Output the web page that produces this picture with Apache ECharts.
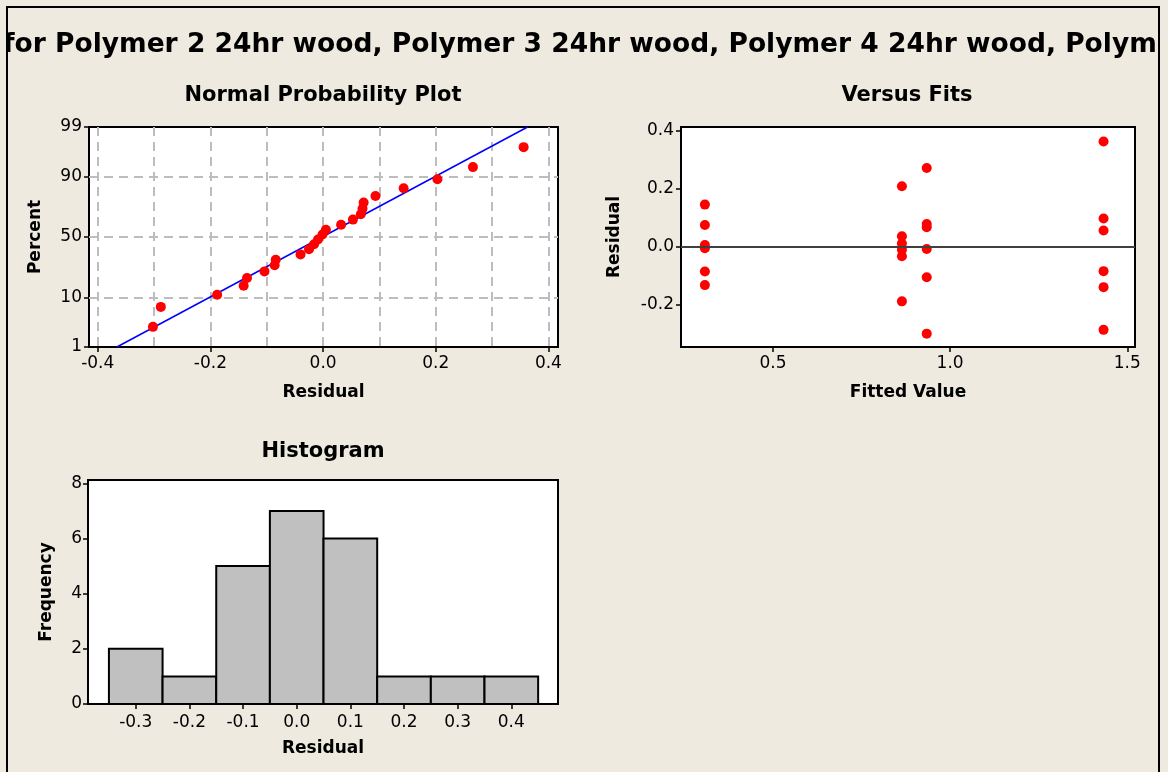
<!DOCTYPE html>
<html>
<head>
<meta charset="utf-8">
<script src="https://cdn.jsdelivr.net/npm/echarts@6/dist/echarts.min.js"></script>
<style>
  html, body { margin: 0; padding: 0; background: #EEEAE0; }
  #chart { width: 1168px; height: 772px; }
</style>
</head>
<body>
<div id="chart"></div>
<script>
// ---------- Data ----------
const mainTitle = "for Polymer 2 24hr wood, Polymer 3 24hr wood, Polymer 4 24hr wood, Polym";

// Normal probability plot (sorted residuals and their plotting percents)
const probResiduals = [-0.302, -0.288, -0.188, -0.141, -0.135, -0.104, -0.086, -0.084,
  -0.040, -0.025, -0.016, -0.009, -0.001, 0.005, 0.032, 0.053, 0.067, 0.070, 0.072,
  0.093, 0.143, 0.203, 0.266, 0.356];
const probPercents = [2.87, 6.97, 11.07, 15.16, 19.26, 23.36, 27.46, 31.56, 35.66, 39.75,
  43.85, 47.95, 52.05, 56.15, 60.25, 64.34, 68.44, 72.54, 76.64, 80.74, 84.84, 88.93,
  93.03, 97.13];
const fitLineResidual = [-0.366, 0.363];
const fitLinePercent = [1, 99];
const probPercentTicks = [1, 10, 50, 90, 99];
const probPercentGrid = [10, 50, 90];
const probResidualTicks = [-0.4, -0.2, 0.0, 0.2, 0.4];
const probResidualGrid = [-0.4, -0.3, -0.2, -0.1, 0.0, 0.1, 0.2, 0.3, 0.4];

// Versus fits
const fittedValues = [0.308, 0.308, 0.308, 0.308, 0.308, 0.308,
  0.864, 0.864, 0.864, 0.864, 0.864, 0.864,
  0.934, 0.934, 0.934, 0.934, 0.934, 0.934,
  1.433, 1.433, 1.433, 1.433, 1.433, 1.433];
const fitsResiduals = [0.145, 0.075, 0.006, -0.005, -0.085, -0.132,
  0.208, 0.036, 0.011, -0.010, -0.033, -0.188,
  0.271, 0.078, 0.067, -0.008, -0.105, -0.299,
  0.362, 0.097, 0.056, -0.084, -0.139, -0.286];
const fitsXTicks = [0.5, 1.0, 1.5];
const fitsYTicks = [-0.2, 0.0, 0.2, 0.4];

// Histogram
const binStart = [-0.35, -0.25, -0.15, -0.05, 0.05, 0.15, 0.25, 0.35];
const binEnd   = [-0.25, -0.15, -0.05, 0.05, 0.15, 0.25, 0.35, 0.45];
const binCount = [2, 1, 5, 7, 6, 1, 1, 1];
const histXTicks = [-0.3, -0.2, -0.1, 0.0, 0.1, 0.2, 0.3, 0.4];
const histYTicks = [0, 2, 4, 6, 8];

// ---------- Helpers ----------
function normInv(p) {
  const a = [-3.969683028665376e+01, 2.209460984245205e+02, -2.759285104469687e+02,
    1.383577518672690e+02, -3.066479806614716e+01, 2.506628277459239e+00];
  const b = [-5.447609879822406e+01, 1.615858368580409e+02, -1.556989798598866e+02,
    6.680131188771972e+01, -1.328068155288572e+01];
  const c = [-7.784894002430293e-03, -3.223964580411365e-01, -2.400758277161838e+00,
    -2.549732539343734e+00, 4.374664141464968e+00, 2.938163982698783e+00];
  const d = [7.784695709041462e-03, 3.224671290700398e-01, 2.445134137142996e+00,
    3.754408661907416e+00];
  const pl = 0.02425, ph = 1 - pl;
  let q, r;
  if (p < pl) {
    q = Math.sqrt(-2 * Math.log(p));
    return (((((c[0]*q+c[1])*q+c[2])*q+c[3])*q+c[4])*q+c[5]) / ((((d[0]*q+d[1])*q+d[2])*q+d[3])*q+1);
  } else if (p <= ph) {
    q = p - 0.5; r = q * q;
    return (((((a[0]*r+a[1])*r+a[2])*r+a[3])*r+a[4])*r+a[5])*q / (((((b[0]*r+b[1])*r+b[2])*r+b[3])*r+b[4])*r+1);
  } else {
    q = Math.sqrt(-2 * Math.log(1 - p));
    return -(((((c[0]*q+c[1])*q+c[2])*q+c[3])*q+c[4])*q+c[5]) / ((((d[0]*q+d[1])*q+d[2])*q+d[3])*q+1);
  }
}
const pz = pct => normInv(pct / 100);
const zTicks = probPercentTicks.map(pz);
const zGrid = probPercentGrid.map(pz);
const zMin = pz(1), zMax = pz(99);

const probPoints = probResiduals.map((r, i) => [r, pz(probPercents[i])]);
const fitLine = fitLineResidual.map((r, i) => [r, pz(fitLinePercent[i])]);
const fitsPoints = fittedValues.map((f, i) => [f, fitsResiduals[i]]);
const histData = binStart.map((s, i) => [s, binEnd[i], binCount[i]]);

// ---------- Styles ----------
const FONT = "DejaVu Sans";
const BG = "#EEEAE0";
const tickLabel = { color: "#000", fontFamily: FONT, fontSize: 17 };
const nameStyle = { color: "#000", fontFamily: FONT, fontSize: 17, fontWeight: "bold" };
const axisLine = { show: true, onZero: false, lineStyle: { color: "#000", width: 2 } };
const tickStyle = (vals) => ({ show: true, inside: false, length: 5, lineStyle: { color: "#000", width: 1.5 }, customValues: vals });
const gridBox = { show: true, backgroundColor: "#fff", borderColor: "#000", borderWidth: 2 };
const dashGrid = { show: true, lineStyle: { color: "#BDBDBD", width: 2, type: [9, 6] } };
const panelTitle = { fontFamily: FONT, fontSize: 21, fontWeight: "bold", color: "#000" };

const chart = echarts.init(document.getElementById("chart"), null, { renderer: "canvas" });

const option = {
  backgroundColor: BG,
  animation: false,
  title: [
    { text: mainTitle, left: -2, top: 27, textStyle: { fontFamily: FONT, fontSize: 26.5, fontWeight: "bold", color: "#000" } },
    { text: "Normal Probability Plot", left: 318, top: 80, textAlign: "center", textStyle: panelTitle },
    { text: "Versus Fits", left: 902, top: 80, textAlign: "center", textStyle: panelTitle },
    { text: "Histogram", left: 318, top: 436, textAlign: "center", textStyle: panelTitle }
  ],
  grid: [
    Object.assign({ left: 89, top: 127, width: 469, height: 220 }, gridBox),
    Object.assign({ left: 681, top: 127, width: 454, height: 220 }, gridBox),
    Object.assign({ left: 88, top: 480, width: 470, height: 224 }, gridBox)
  ],
  xAxis: [
    { type: "value", gridIndex: 0, min: -0.4155, max: 0.417,
      axisLine, axisTick: tickStyle(probResidualTicks),
      axisLabel: Object.assign({ customValues: probResidualTicks, margin: 8, formatter: v => v.toFixed(1) }, tickLabel),
      splitLine: { show: false },
      name: "Residual", nameLocation: "middle", nameGap: 37, nameTextStyle: nameStyle },
    { type: "value", gridIndex: 0, min: -0.4155, max: 0.417, z: 1,
      axisLine: { show: false, onZero: false }, axisTick: { show: false, customValues: probResidualGrid },
      axisLabel: { show: false, customValues: probResidualGrid }, splitLine: dashGrid },
    { type: "value", gridIndex: 1, min: 0.2406, max: 1.5217,
      axisLine, axisTick: tickStyle(fitsXTicks),
      axisLabel: Object.assign({ customValues: fitsXTicks, margin: 8, formatter: v => v.toFixed(1) }, tickLabel),
      splitLine: { show: false },
      name: "Fitted Value", nameLocation: "middle", nameGap: 37, nameTextStyle: nameStyle },
    { type: "value", gridIndex: 2, min: -0.389, max: 0.487,
      axisLine, axisTick: tickStyle(histXTicks),
      axisLabel: Object.assign({ customValues: histXTicks, margin: 10, formatter: v => v.toFixed(1) }, tickLabel),
      splitLine: { show: false },
      name: "Residual", nameLocation: "middle", nameGap: 36, nameTextStyle: nameStyle }
  ],
  yAxis: [
    { type: "value", gridIndex: 0, min: zMin, max: zMax,
      axisLine, axisTick: tickStyle(zTicks),
      axisLabel: Object.assign({ customValues: zTicks, margin: 7,
        formatter: v => { let best = 0; zTicks.forEach((z, i) => { if (Math.abs(z - v) < Math.abs(zTicks[best] - v)) best = i; }); return String(probPercentTicks[best]); } }, tickLabel),
      splitLine: { show: false },
      name: "Percent", nameLocation: "middle", nameGap: 45, nameTextStyle: nameStyle },
    { type: "value", gridIndex: 1, min: -0.345, max: 0.412,
      axisLine, axisTick: tickStyle(fitsYTicks),
      axisLabel: Object.assign({ customValues: fitsYTicks, margin: 7, formatter: v => v.toFixed(1) }, tickLabel),
      splitLine: { show: false },
      name: "Residual", nameLocation: "middle", nameGap: 58, nameTextStyle: nameStyle },
    { type: "value", gridIndex: 2, min: 0, max: 8.12,
      axisLine, axisTick: tickStyle(histYTicks),
      axisLabel: Object.assign({ customValues: histYTicks, margin: 6 }, tickLabel),
      splitLine: { show: false },
      name: "Frequency", nameLocation: "middle", nameGap: 33, nameTextStyle: nameStyle },
    { type: "value", gridIndex: 0, min: zMin, max: zMax, z: 1,
      axisLine: { show: false, onZero: false }, axisTick: { show: false, customValues: zGrid },
      axisLabel: { show: false, customValues: zGrid }, splitLine: dashGrid }
  ],
  series: [
    { type: "line", xAxisIndex: 0, yAxisIndex: 0, data: fitLine, symbol: "none",
      lineStyle: { color: "#0000FF", width: 1.5 }, z: 3 },
    { type: "scatter", xAxisIndex: 0, yAxisIndex: 0, data: probPoints, symbol: "circle",
      symbolSize: 10, itemStyle: { color: "#FF0000", opacity: 1 }, z: 4 },
    { type: "scatter", xAxisIndex: 2, yAxisIndex: 1, data: fitsPoints, symbol: "circle",
      symbolSize: 10, itemStyle: { color: "#FF0000", opacity: 1 }, z: 4,
      markLine: { silent: true, symbol: "none", label: { show: false },
        lineStyle: { color: "#404040", width: 2, type: "solid" }, data: [{ yAxis: 0 }] } },
    { type: "custom", xAxisIndex: 3, yAxisIndex: 2, data: histData,
      renderItem: function (params, api) {
        const p0 = api.coord([api.value(0), 0]);
        const p1 = api.coord([api.value(1), api.value(2)]);
        return { type: "rect",
          shape: { x: p0[0], y: p1[1], width: p1[0] - p0[0], height: p0[1] - p1[1] },
          style: { fill: "#C0C0C0", stroke: "#000", lineWidth: 2 } };
      }, z: 3 }
  ],
  graphic: [
    { type: "rect", z: 100, shape: { x: 0, y: 0, width: 7, height: 772 }, style: { fill: BG } },
    { type: "rect", z: 100, shape: { x: 1159, y: 0, width: 9, height: 772 }, style: { fill: BG } },
    { type: "rect", z: 101, shape: { x: 7, y: 7, width: 1152, height: 800 }, style: { fill: null, stroke: "#000", lineWidth: 2 } }
  ]
};
chart.setOption(option);
</script>
</body>
</html>
